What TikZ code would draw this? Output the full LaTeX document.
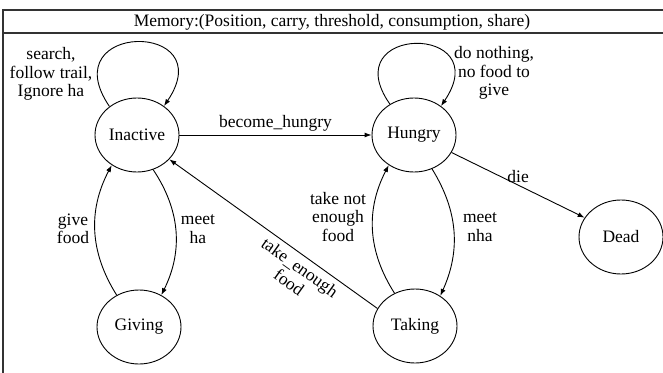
\documentclass[tikz,border=0pt]{standalone}
\usepackage{fontspec}
\setmainfont{Liberation Serif}
\newfontfamily\tmsfont{Liberation Serif}
\usetikzlibrary{arrows.meta,shapes.geometric}
\begin{document}
\begin{tikzpicture}[x=1pt,y=-1pt,
  state/.style={ellipse,draw,line width=0.9pt,minimum width=84pt,minimum height=74pt,inner sep=0pt},
  edge/.style={line width=0.9pt,-{Latex[length=7pt,width=5pt]}},
  redge/.style={line width=0.9pt,{Latex[length=7pt,width=5pt]}-},
  lbl/.style={align=center,inner sep=1pt},
  frame/.style={line width=1.3pt,draw=black!80},
  font=\tmsfont\fontsize{17.5}{18.5}\selectfont]
\useasboundingbox (0,0) rectangle (663,372);
\clip (0,0) rectangle (663,372);
\draw[frame] (3,10) rectangle (670,380);
\draw[frame] (3,33) -- (670,33);
\node (hdr) at (332,22) {Memory:(Position, carry, threshold, consumption, share)};

\node[state] (inactive) at (137,135) {Inactive};
\node[state] (hungry) at (414,135) {Hungry};
\node[state] (giving) at (139,327) {Giving};
\node[state] (taking) at (415,326) {Taking};
\node[state] (dead) at (621,237) {Dead};

% self loops
\draw[edge] (inactive.134) .. controls +(-58,-85) and +(58,-86) .. (inactive.47);
\draw[edge] (hungry.128) .. controls +(-56,-80) and +(56,-83) .. (hungry.47);
\node[lbl] (lsearch) at (51,74) {search,\\follow trail,\\Ignore ha};
\node[lbl] (lnothing) at (494,73) {do nothing,\\no food to\\give};

% straight transitions
\draw[edge] (inactive.east) -- node[lbl,above=2pt] (lbh) {become\_hungry} (hungry.west);
\draw[edge] (hungry.-25) -- node[lbl,above=1pt] (ldie) {die} (dead.152);
\draw[redge] (inactive.-37) -- node[lbl,sloped,below=4pt,pos=0.66] (lte) {take\_enough\\food} (taking.155);

% curved transitions
\draw[edge] (inactive.-65) to[bend left=30] (giving.55);
\draw[edge] (giving.125) to[bend left=30] (inactive.-130);
\draw[edge] (taking.122) to[bend left=30] (hungry.-130);
\draw[edge] (hungry.-62) to[bend left=28] (taking.50);
\node[lbl] (lgive) at (73,229) {give\\food};
\node[lbl] (lmeetha) at (198,229) {meet\\ha};
\node[lbl] (ltakenot) at (338,217) {take not\\enough\\food};
\node[lbl] (lmeetnha) at (480,227) {meet\\nha};
\end{tikzpicture}
\end{document}
